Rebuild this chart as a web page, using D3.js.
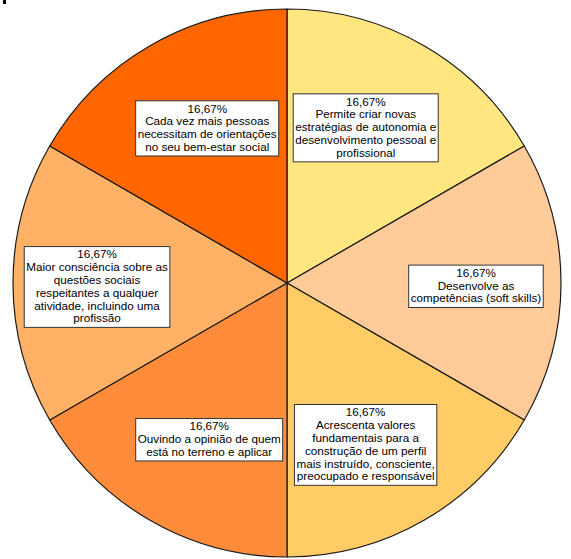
<!DOCTYPE html>
<html>
<head>
<meta charset="utf-8">
<script src="https://cdn.jsdelivr.net/npm/d3@7/dist/d3.min.js"></script>
<style>
  html, body { margin: 0; padding: 0; background: #fff; }
  svg { display: block; }
</style>
</head>
<body>
<svg id="chart" width="571" height="559"></svg>
<script>
// ---- data ----
const categories = [
  "Permite criar novas estratégias de autonomia e desenvolvimento pessoal e profissional",
  "Desenvolve as competências (soft skills)",
  "Acrescenta valores fundamentais para a construção de um perfil mais instruído, consciente, preocupado e responsável",
  "Ouvindo a opinião de quem está no terreno e aplicar",
  "Maior consciência sobre as questões sociais respeitantes a qualquer atividade, incluindo uma profissão",
  "Cada vez mais pessoas necessitam de orientações no seu bem-estar social"
];
const values = [1, 1, 1, 1, 1, 1];
// label wrapping as in the picture
const labelLines = [
  ["Permite criar novas", "estratégias de autonomia e", "desenvolvimento pessoal e", "profissional"],
  ["Desenvolve as", "competências (soft skills)"],
  ["Acrescenta valores", "fundamentais para a", "construção de um perfil", "mais instruído, consciente,", "preocupado e responsável"],
  ["Ouvindo a opinião de quem", "está no terreno e aplicar"],
  ["Maior consciência sobre as", "questões sociais", "respeitantes a qualquer", "atividade, incluindo uma", "profissão"],
  ["Cada vez mais pessoas", "necessitam de orientações", "no seu bem-estar social"]
];
const colors = ["#FFE680", "#FFCC99", "#FFCC66", "#FF8C3A", "#FFB266", "#FF6600"];
// label anchor in polar layout: [radius, angle in degrees from top, clockwise]
const labelPolar = [[174, 26.9], [189, 91], [180, 154.1], [175, 206.4], [190, 268.8], [174, 332.7]];

// ---- layout ----
const cx = 287, cy = 283, R = 274;
const svg = d3.select("#chart");

svg.append("rect").attr("x", 3).attr("y", 0).attr("width", 3).attr("height", 4).attr("fill", "#000");

const total = d3.sum(values);
const pie = d3.pie().sort(null).value(d => d)(values);
const arc = d3.arc().innerRadius(0).outerRadius(R);

const g = svg.append("g").attr("transform", `translate(${cx},${cy})`);

g.selectAll("path.slice")
  .data(pie)
  .join("path")
  .attr("class", "slice")
  .attr("d", arc)
  .attr("fill", (d, i) => colors[i])
  .attr("stroke", "#1a1a1a")
  .attr("stroke-width", 1.2)
  .attr("stroke-linejoin", "round");

const fmt = v => (v / total * 100).toFixed(2).replace(".", ",") + "%";
const lineH = 12.8;
const fontSize = 11.7;

pie.forEach((d, i) => {
  const [lr, la] = labelPolar[i];
  const a = la * Math.PI / 180;
  const x = lr * Math.sin(a), y = -lr * Math.cos(a);
  const lines = [fmt(d.value)].concat(labelLines[i]);
  const lg = g.append("g").attr("class", "label").attr("transform", `translate(${x},${y})`);
  const box = lg.append("rect");
  const txt = lg.append("text")
    .attr("text-anchor", "middle")
    .attr("font-family", "Liberation Sans, Arial, sans-serif")
    .attr("font-size", fontSize)
    .attr("fill", "#000");
  const h = lines.length * lineH;
  lines.forEach((l, k) => {
    txt.append("tspan")
      .attr("x", 0)
      .attr("y", -h / 2 + (k + 1) * lineH - 3)
      .text(l);
  });
  const w = d3.max(txt.selectAll("tspan").nodes(), n => n.getComputedTextLength());
  const pad = 2;
  box.attr("x", -w / 2 - pad).attr("y", -h / 2 - 2)
    .attr("width", w + 2 * pad).attr("height", h + 4)
    .attr("fill", "#fff").attr("stroke", "#333").attr("stroke-width", 1);
});
</script>
</body>
</html>
